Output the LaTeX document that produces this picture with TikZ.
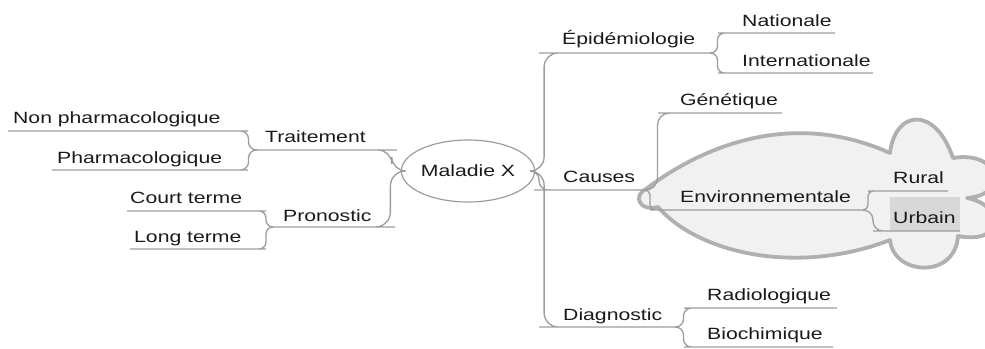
\documentclass[tikz,border=0pt]{standalone}
\usepackage{fontspec}
\setmainfont[FakeStretch=1.3]{Liberation Sans}
\usetikzlibrary{shapes.geometric,calc}

\definecolor{ink}{HTML}{1A1A1A}
\definecolor{linkgray}{HTML}{9C9C9C}
\definecolor{blobline}{HTML}{B0B0B0}
\definecolor{blobfill}{HTML}{F1F1F1}
\definecolor{selgray}{HTML}{D8D8D8}

\begin{document}
\begin{tikzpicture}[x=1pt,y=-1pt,
  link/.style={draw=linkgray, line width=1.3pt, rounded corners=10pt},
  lbl/.style={anchor=base west, inner sep=0pt, text=ink,
              font=\fontsize{16.3}{18}\selectfont},
  elbow/.style={to path={let \p1=(\tikztostart), \p2=(\tikztotarget) in
      -- ({(\x1+\x2)/2},\y1) -- ({(\x1+\x2)/2},\y2) -- (\tikztotarget)}}
]
\useasboundingbox (0,0) rectangle (985,348);

% highlighted environmental cluster
\filldraw[fill=blobfill, draw=blobline, line width=3.8pt, line join=round]
  (646,189) .. controls (700,148) and (790,108) .. (890,153)
  .. controls (895,110) and (935,105) .. (953,158)
  .. controls (1000,150) and (1010,195) .. (967,198)
  .. controls (1005,205) and (1005,245) .. (958,236)
  .. controls (955,280) and (893,275) .. (890,240)
  .. controls (800,275) and (700,255) .. (658,207)
  .. controls (640,212) and (632,196) .. cycle;

% selected topic background
\fill[selgray] (890,197) rectangle (960,231);

% central topic
\node[ellipse, draw=linkgray, line width=1.2pt, minimum width=110pt,
      minimum height=62pt, inner sep=0pt, text=ink,
      font=\fontsize{16.3}{18}\selectfont] (m) at (468,171) {Maladie X};

% underline end points of every topic
\coordinate (t-l)  at (257,150); \coordinate (t-r)  at (383,150);
\coordinate (p-l)  at (273,227); \coordinate (p-r)  at (380,227);
\coordinate (np-l) at (8,131);   \coordinate (np-r) at (240,131);
\coordinate (ph-l) at (52,170);  \coordinate (ph-r) at (240,170);
\coordinate (ct-l) at (127,211); \coordinate (ct-r) at (259,211);
\coordinate (lt-l) at (130,249); \coordinate (lt-r) at (259,249);

\coordinate (e-l)  at (553,53);  \coordinate (e-r)  at (710,53);
\coordinate (n-l)  at (725,33);  \coordinate (n-r)  at (835,33);
\coordinate (i-l)  at (725,73);  \coordinate (i-r)  at (873,73);
\coordinate (c-l)  at (543,190); \coordinate (c-r)  at (645,190);
\coordinate (g-l)  at (670,113); \coordinate (g-r)  at (782,113);
\coordinate (en-l) at (655,210); \coordinate (en-r) at (863,210);
\coordinate (r-l)  at (873,191); \coordinate (r-r)  at (948,191);
\coordinate (u-l)  at (883,231); \coordinate (u-r)  at (960,231);
\coordinate (d-l)  at (553,327); \coordinate (d-r)  at (675,327);
\coordinate (ra-l) at (692,308); \coordinate (ra-r) at (837,308);
\coordinate (b-l)  at (692,347); \coordinate (b-r)  at (833,347);

% left branches
\draw[link, rounded corners=14pt] (m.west) to[elbow] (t-r) -- (t-l);
\draw[link, rounded corners=15pt] (m.west) to[elbow] (p-r) -- (p-l);
\draw[link, rounded corners=8pt] (t-l) to[elbow] (np-r) -- (np-l);
\draw[link, rounded corners=8pt] (t-l) to[elbow] (ph-r) -- (ph-l);
\draw[link, rounded corners=7pt] (p-l) to[elbow] (ct-r) -- (ct-l);
\draw[link, rounded corners=7pt] (p-l) to[elbow] (lt-r) -- (lt-l);

% right branches
\draw[link, rounded corners=14pt] (m.east) to[elbow] (e-l) -- (e-r);
\draw[link, rounded corners=9pt]  (m.east) to[elbow] (c-l) -- (c-r);
\draw[link, rounded corners=14pt] (m.east) to[elbow] (d-l) -- (d-r);
\draw[link, rounded corners=7pt] (e-r) to[elbow] (n-l) -- (n-r);
\draw[link, rounded corners=7pt] (e-r) to[elbow] (i-l) -- (i-r);
\draw[link, rounded corners=12pt] (c-r) to[elbow] (g-l) -- (g-r);
\draw[link, rounded corners=5pt] (c-r) to[elbow] (en-l) -- (en-r);
\draw[link, rounded corners=5pt] (en-r) to[elbow] (r-l) -- (r-r);
\draw[link, rounded corners=10pt] (en-r) to[elbow] (u-l) -- (u-r);
\draw[link, rounded corners=8pt] (d-r) to[elbow] (ra-l) -- (ra-r);
\draw[link, rounded corners=8pt] (d-r) to[elbow] (b-l) -- (b-r);

% topic labels
\node[lbl] (t)  at (265,142) {Traitement};
\node[lbl] (p)  at (283,221) {Pronostic};
\node[lbl] (np) at (13,123)  {Non pharmacologique};
\node[lbl] (ph) at (57,163)  {Pharmacologique};
\node[lbl] (ct) at (130,203) {Court terme};
\node[lbl] (lt) at (134,242) {Long terme};

\node[lbl] (e)  at (562,44)  {Épidémiologie};
\node[lbl] (n)  at (742,26)  {Nationale};
\node[lbl] (i)  at (742,66)  {Internationale};
\node[lbl] (c)  at (563,182) {Causes};
\node[lbl] (g)  at (680,105) {Génétique};
\node[lbl] (en) at (680,202) {Environnementale};
\node[lbl] (r)  at (893,183) {Rural};
\node[lbl] (u)  at (893,223) {Urbain};
\node[lbl] (d)  at (563,320) {Diagnostic};
\node[lbl] (ra) at (707,300) {Radiologique};
\node[lbl] (b)  at (707,339) {Biochimique};
\end{tikzpicture}
\end{document}
